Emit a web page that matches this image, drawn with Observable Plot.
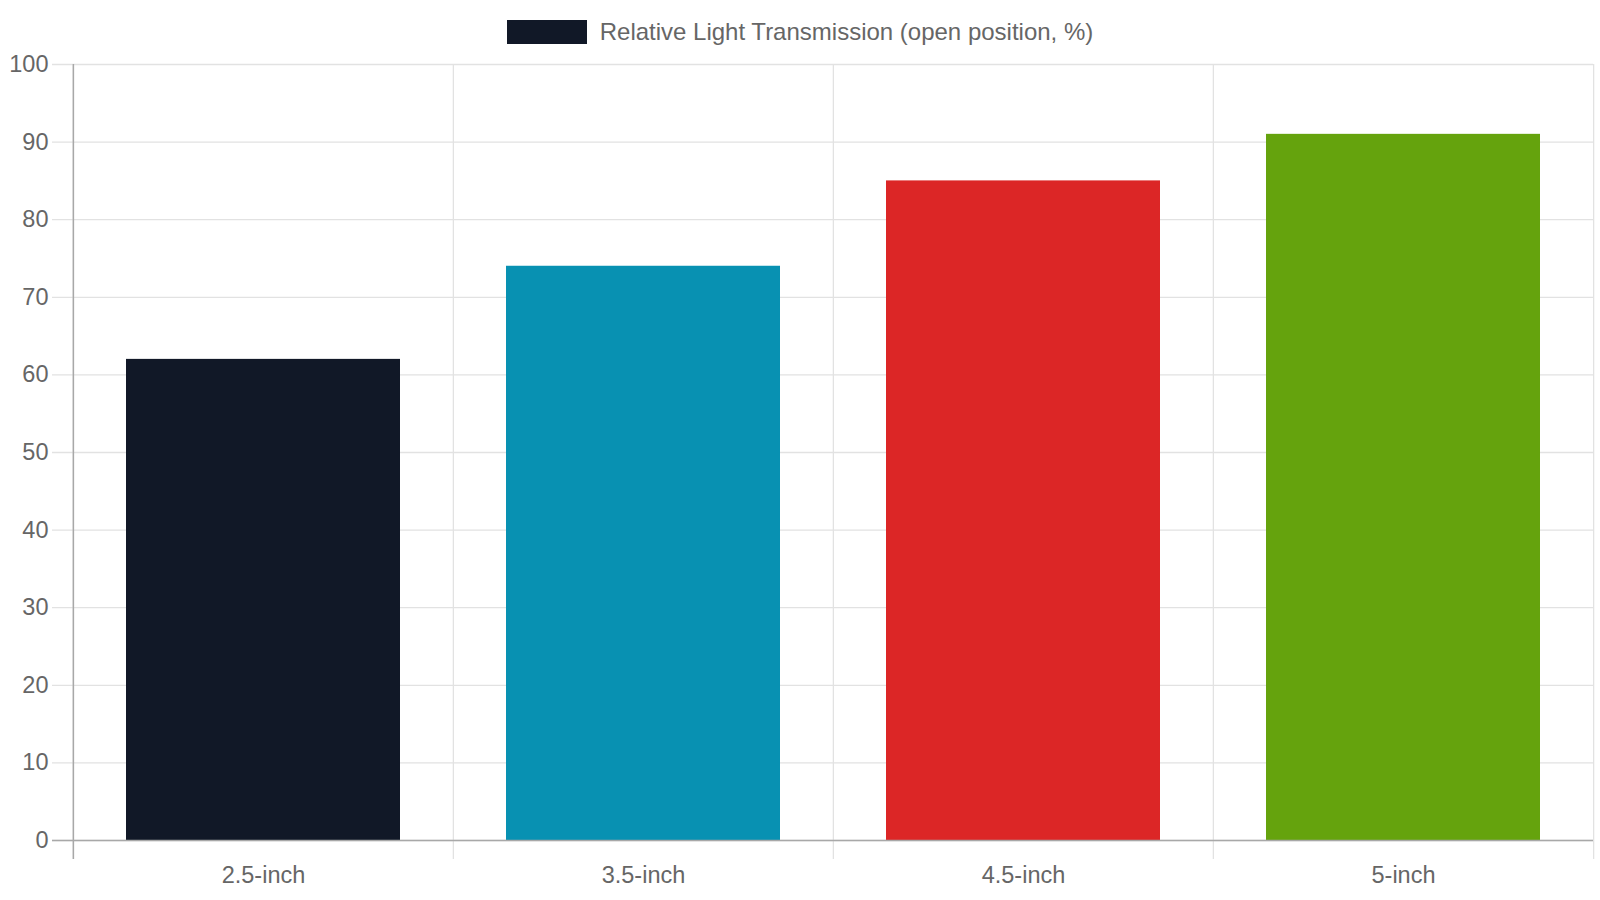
<!DOCTYPE html>
<html>
<head>
<meta charset="utf-8">
<script src="https://cdn.jsdelivr.net/npm/d3@7"></script>
<script src="https://cdn.jsdelivr.net/npm/@observablehq/plot@0.6"></script>
<style>
  html, body { margin: 0; padding: 0; background: #fff; }
  body { width: 1600px; height: 900px; overflow: hidden; font-family: "Liberation Sans", Arial, sans-serif; }
  #legend { height: 50px; box-sizing: border-box; padding-top: 20px; display: flex; justify-content: center; align-items: flex-start; }
  #legend .swatch { width: 80px; height: 24px; }
  #legend .label { margin-left: 13px; font-size: 24px; line-height: 24px; color: #666; }
  svg { overflow: visible; display: block; }
</style>
</head>
<body>
<div id="legend"></div>
<div id="chart"></div>
<script>
const categories = ["2.5-inch", "3.5-inch", "4.5-inch", "5-inch"];
const values = [62, 74, 85, 91];
const barColors = ["#111827", "#0891b2", "#dc2626", "#65a30d"];
const yTicks = [0, 10, 20, 30, 40, 50, 60, 70, 80, 90, 100];
const legendLabel = "Relative Light Transmission (open position, %)";

const data = categories.map((c, i) => ({cat: c, value: values[i]}));

// legend
const legend = document.getElementById("legend");
legend.innerHTML = `<div class="swatch" style="background:${barColors[0]}"></div><div class="label">${legendLabel}</div>`;

const W = 1600, H = 850, ml = 72, mr = 7, mt = 14, mb = 60;
const step = (W - ml - mr) / categories.length;
const gridColor = "#e2e2e2";
const axisColor = "#a8a8a8";

const chart = Plot.plot({
  width: W,
  height: H,
  marginLeft: ml,
  marginRight: mr,
  marginTop: mt,
  marginBottom: mb,
  style: {fontFamily: "'Liberation Sans', Arial, sans-serif", fontSize: "23.5px", color: "#666", background: "#fff", overflow: "visible"},
  x: {domain: categories, paddingInner: 0.28, paddingOuter: 0.14, label: null},
  y: {domain: [0, 100], label: null},
  color: {domain: categories, range: barColors},
  marks: [
    Plot.ruleY(yTicks, {y: d => d, stroke: gridColor, strokeWidth: 1.3, insetLeft: -20}),
    Plot.ruleX(categories, {x: d => d, dx: -step / 2, stroke: gridColor, strokeWidth: 1.3, insetBottom: -19}),
    Plot.ruleX(categories.slice(-1), {x: d => d, dx: step / 2, stroke: gridColor, strokeWidth: 1.3, insetBottom: -19}),
    Plot.barY(data, {x: "cat", y: "value", fill: "cat"}),
    Plot.ruleY([0], {y: d => d, stroke: axisColor, strokeWidth: 1.5, insetLeft: -20}),
    Plot.ruleX(categories.slice(0, 1), {x: d => d, dx: -step / 2, stroke: axisColor, strokeWidth: 1.5, insetBottom: -19}),
    Plot.axisY(yTicks, {tickSize: 0, tickPadding: 24, fontSize: 23.5, fill: "#666"}),
    Plot.axisX({tickSize: 0, tickPadding: 26, fontSize: 23.5, fill: "#666"})
  ]
});
document.getElementById("chart").appendChild(chart);
</script>
</body>
</html>
